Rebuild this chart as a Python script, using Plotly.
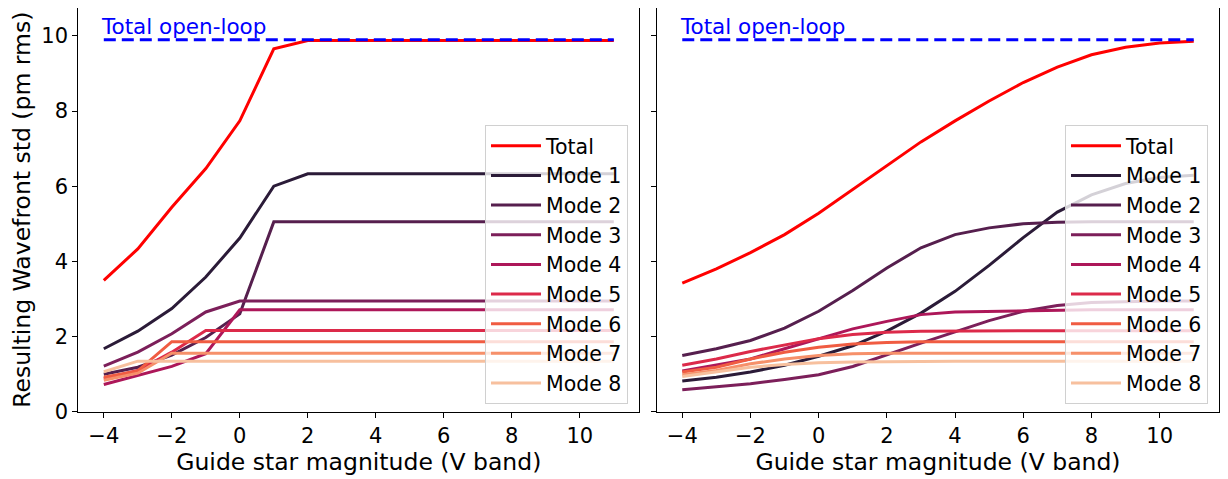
import plotly.graph_objects as go

# ---------------- data ----------------
mag = [-4, -3, -2, -1, 0, 1, 2, 3, 4, 5, 6, 7, 8, 9, 10, 11]
open_loop = 9.9

total_left = [3.49, 4.33, 5.44, 6.47, 7.74, 9.66, 9.88, 9.88, 9.88, 9.88, 9.88, 9.88, 9.88, 9.88, 9.88, 9.88]
mode1_left = [1.67, 2.14, 2.74, 3.58, 4.62, 6.00, 6.33, 6.33, 6.33, 6.33, 6.33, 6.33, 6.33, 6.33, 6.33, 6.33]
mode2_left = [0.99, 1.18, 1.50, 1.97, 2.60, 5.05, 5.05, 5.05, 5.05, 5.05, 5.05, 5.05, 5.05, 5.05, 5.05, 5.05]
mode3_left = [1.21, 1.58, 2.07, 2.65, 2.94, 2.94, 2.94, 2.94, 2.94, 2.94, 2.94, 2.94, 2.94, 2.94, 2.94, 2.94]
mode4_left = [0.72, 0.96, 1.20, 1.54, 2.71, 2.71, 2.71, 2.71, 2.71, 2.71, 2.71, 2.71, 2.71, 2.71, 2.71, 2.71]
mode5_left = [0.87, 1.09, 1.58, 2.16, 2.16, 2.16, 2.16, 2.16, 2.16, 2.16, 2.16, 2.16, 2.16, 2.16, 2.16, 2.16]
mode6_left = [0.91, 1.08, 1.86, 1.86, 1.86, 1.86, 1.86, 1.86, 1.86, 1.86, 1.86, 1.86, 1.86, 1.86, 1.86, 1.86]
mode7_left = [0.83, 1.02, 1.55, 1.55, 1.55, 1.55, 1.55, 1.55, 1.55, 1.55, 1.55, 1.55, 1.55, 1.55, 1.55, 1.55]
mode8_left = [1.06, 1.34, 1.34, 1.34, 1.34, 1.34, 1.34, 1.34, 1.34, 1.34, 1.34, 1.34, 1.34, 1.34, 1.34, 1.34]

total_right = [3.42, 3.80, 4.23, 4.71, 5.28, 5.91, 6.55, 7.18, 7.74, 8.27, 8.76, 9.17, 9.50, 9.70, 9.81, 9.86]
mode1_right = [0.81, 0.91, 1.05, 1.23, 1.47, 1.75, 2.14, 2.62, 3.20, 3.89, 4.63, 5.31, 5.77, 6.07, 6.23, 6.29]
mode2_right = [1.49, 1.67, 1.89, 2.22, 2.67, 3.22, 3.82, 4.36, 4.71, 4.89, 5.00, 5.04, 5.05, 5.05, 5.05, 5.05]
mode3_right = [0.58, 0.65, 0.74, 0.85, 0.98, 1.20, 1.52, 1.82, 2.12, 2.42, 2.67, 2.82, 2.90, 2.93, 2.94, 2.94]
mode4_right = [1.08, 1.23, 1.40, 1.67, 1.94, 2.20, 2.40, 2.58, 2.65, 2.67, 2.69, 2.70, 2.71, 2.71, 2.71, 2.71]
mode5_right = [1.23, 1.40, 1.60, 1.78, 1.94, 2.05, 2.11, 2.14, 2.15, 2.15, 2.15, 2.15, 2.15, 2.15, 2.15, 2.15]
mode6_right = [1.05, 1.18, 1.40, 1.58, 1.71, 1.80, 1.84, 1.86, 1.86, 1.86, 1.86, 1.86, 1.86, 1.86, 1.86, 1.86]
mode7_right = [0.98, 1.09, 1.27, 1.40, 1.49, 1.54, 1.55, 1.55, 1.55, 1.55, 1.55, 1.55, 1.55, 1.55, 1.55, 1.55]
mode8_right = [0.93, 1.05, 1.18, 1.25, 1.30, 1.32, 1.33, 1.34, 1.34, 1.34, 1.34, 1.34, 1.34, 1.34, 1.34, 1.34]

mode_names = ["Mode 1", "Mode 2", "Mode 3", "Mode 4", "Mode 5", "Mode 6", "Mode 7", "Mode 8"]
modes_left = [mode1_left, mode2_left, mode3_left, mode4_left, mode5_left, mode6_left, mode7_left, mode8_left]
modes_right = [mode1_right, mode2_right, mode3_right, mode4_right, mode5_right, mode6_right, mode7_right, mode8_right]
mode_colors = ["#2b1b38", "#561f4e", "#7c1f5a", "#ad1759", "#dc2a4a", "#f05c42", "#f6906a", "#f7c09e"]

x_ticks = [-4, -2, 0, 2, 4, 6, 8, 10]
y_ticks = [0, 2, 4, 6, 8, 10]

FONT = "DejaVu Sans"
LW = 3

fig = go.Figure()

panels = [
    ("x", "y", "legend", total_left, modes_left),
    ("x2", "y2", "legend2", total_right, modes_right),
]
for xa, ya, lg, tot, modes in panels:
    fig.add_trace(go.Scatter(x=mag, y=tot, mode="lines", name="Total",
                             line=dict(color="#ff0000", width=LW),
                             xaxis=xa, yaxis=ya, legend=lg))
    for name, vals, col in zip(mode_names, modes, mode_colors):
        fig.add_trace(go.Scatter(x=mag, y=vals, mode="lines", name=name,
                                 line=dict(color=col, width=LW),
                                 xaxis=xa, yaxis=ya, legend=lg))
    fig.add_trace(go.Scatter(x=[mag[0], mag[-1]], y=[open_loop, open_loop], mode="lines",
                             line=dict(color="#0000ff", width=LW, dash="12px,6px"),
                             showlegend=False, xaxis=xa, yaxis=ya))

axis_common = dict(
    showline=True, linecolor="black", linewidth=1.1,
    ticks="outside", ticklen=5, tickwidth=1.1, tickcolor="black",
    showgrid=False, zeroline=False, automargin=False,
    tickfont=dict(family=FONT, size=21, color="black"),
)

# The page body adds an 8px margin, so the figure is 8px smaller than the window
W, H = 1220, 471
xr = [-4.75, 11.75]
yr = [0, 10.745]
TITLE_FONT = dict(family=FONT, size=23.5, color="black")
LEG_FONT = dict(family=FONT, size=20.5, color="black")

fig.update_layout(
    width=W, height=H,
    margin=dict(l=0, r=0, t=0, b=0),
    paper_bgcolor="white", plot_bgcolor="white",
    font=dict(family=FONT, size=20, color="black"),
    xaxis=dict(domain=[0.05762, 0.51746], range=xr, tickvals=x_ticks, anchor="y",
               title=dict(text="Guide star magnitude (V band)", font=TITLE_FONT, standoff=3),
               **axis_common),
    yaxis=dict(domain=[0.1433, 1.0], range=yr, tickvals=y_ticks, anchor="x", mirror=True,
               title=dict(text="Resulting Wavefront std (pm rms)", font=TITLE_FONT, standoff=8),
               **axis_common),
    xaxis2=dict(domain=[0.53172, 0.99287], range=xr, tickvals=x_ticks, anchor="y2",
                title=dict(text="Guide star magnitude (V band)", font=TITLE_FONT, standoff=3),
                **axis_common),
    yaxis2=dict(domain=[0.1433, 1.0], range=yr, tickvals=y_ticks, anchor="x2", mirror=True,
                showticklabels=False, **axis_common),
    legend=dict(x=0.5082, xanchor="right", y=0.7516, yanchor="top", itemwidth=50,
                bgcolor="rgba(255,255,255,0.8)", bordercolor="#d0d0d0", borderwidth=1,
                font=LEG_FONT, tracegroupgap=0),
    legend2=dict(x=0.9836, xanchor="right", y=0.7516, yanchor="top", itemwidth=50,
                 bgcolor="rgba(255,255,255,0.8)", bordercolor="#d0d0d0", borderwidth=1,
                 font=LEG_FONT, tracegroupgap=0),
)

for xref, yref in [("x", "y"), ("x2", "y2")]:
    fig.add_annotation(x=-4.1, y=9.9, xref=xref, yref=yref, text="Total open-loop",
                       showarrow=False, xanchor="left", yanchor="bottom",
                       font=dict(family=FONT, size=21.5, color="#0000ff"), borderpad=0)

fig.write_html("out.html")
